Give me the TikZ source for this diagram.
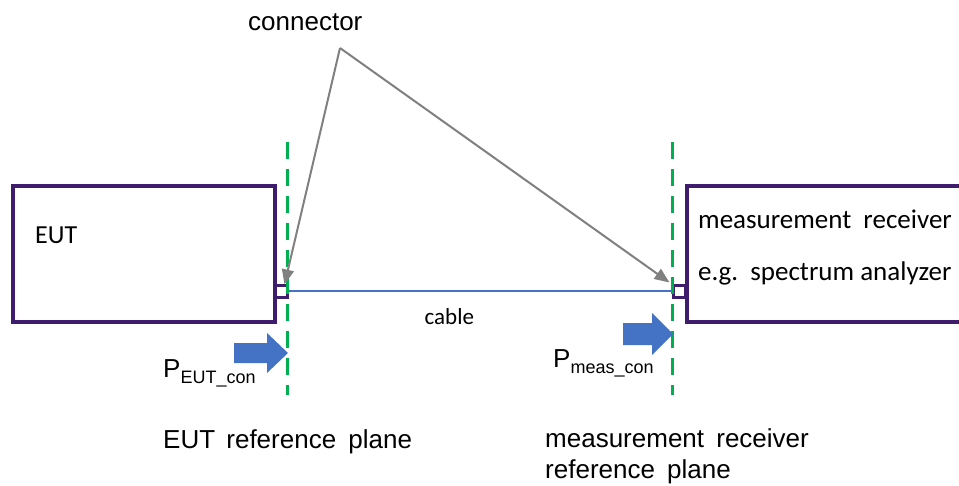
\documentclass[tikz,border=0pt]{standalone}
\usepackage{fontspec}
\setmainfont{Liberation Sans}
\newfontfamily\calibri{Carlito}
\usetikzlibrary{arrows.meta, positioning, calc}
\definecolor{boxline}{RGB}{64, 28, 110}
\definecolor{planegreen}{RGB}{0, 176, 80}
\definecolor{cableblue}{RGB}{68, 114, 196}
\definecolor{pointer}{RGB}{128, 128, 128}
\newcommand{\fsz}[1]{\fontsize{#1}{#1}\selectfont}

\begin{document}
\begin{tikzpicture}[
    x=1pt, y=-1pt,
    device/.style={rectangle, draw=boxline, line width=3.5pt, fill=white, inner sep=0pt},
    port/.style={rectangle, draw=boxline, line width=3pt, minimum width=12pt, minimum height=12pt, inner sep=0pt},
    plane/.style={planegreen, line width=3pt, dash pattern=on 17pt off 10pt},
    cable/.style={cableblue, line width=1.3pt},
    pointarrow/.style={pointer, line width=2pt, -{Triangle[length=15pt, width=12pt]}},
    powerarrow/.style={fill=cableblue},
    devtext/.style={anchor=base west, inner sep=0pt, font=\calibri\fsz{27}},
    plainlabel/.style={anchor=base west, inner sep=0pt, font=\fsz{26}}
]
    \useasboundingbox (0,0) rectangle (959,485);

    % devices
    \node (eut) [device, minimum width=262pt, minimum height=136pt] at (144,254) {};
    \node (rx) [device, minimum width=300pt, minimum height=136pt, anchor=west] at (685,254) {};
    \node (euttext) [devtext, font=\calibri\fsz{26}] at (35,243) {EUT};
    \node (rxtext) [devtext] at (698,228) {measurement\hspace{6pt} receiver};
    \node (rxtype) [devtext] at (698,280) {e.g.\hspace{4pt} spectrum analyzer};

    % connectors
    \node (eutport) [port] at (281,291) {};
    \node (rxport) [port] at (679,291) {};
    \draw [cable] (eutport.east) -- node[pos=0.42, below=14pt, text=black, font=\calibri\fsz{23}]{cable} (rxport.west);

    % reference planes
    \coordinate (eutplanetop) at (287,142);
    \coordinate (eutplanebot) at (287,395);
    \coordinate (rxplanetop) at (672,142);
    \coordinate (rxplanebot) at (672,395);
    \draw [plane] (eutplanetop) -- (eutplanebot);
    \draw [plane] (rxplanetop) -- (rxplanebot);

    % connector callout
    \node (conlabel) [plainlabel] at (248,30) {connector};
    \coordinate (apex) at (340,48);
    \draw [pointarrow] (apex) -- ($(eutport.north east)+(-4,1)$);
    \draw [pointarrow] (apex) -- ($(rxport.north west)+(-2,-1)$);

    % power arrows
    \fill [powerarrow] (234,343) -- (267,343) -- (267,333) -- (288,353) -- (267,373) -- (267,363) -- (234,363) -- cycle;
    \fill [powerarrow] (623,323) -- (652,323) -- (652,313) -- (673,334) -- (652,355) -- (652,345) -- (623,345) -- cycle;
    \node (peut) [plainlabel] at (163,377) {P\raisebox{-6pt}{\fsz{18}EUT\_con}};
    \node (pmeas) [plainlabel] at (553,367) {P\raisebox{-6pt}{\fsz{18}meas\_con}};

    % plane labels
    \node (eutplane) [plainlabel] at (163,448) {EUT\hspace{4pt} reference\hspace{5pt} plane};
    \node (rxplane) [plainlabel] at (545,447) {measurement\hspace{5pt} receiver};
    \node (rxplane2) [plainlabel] at (545,478) {reference\hspace{5pt} plane};
\end{tikzpicture}
\end{document}
